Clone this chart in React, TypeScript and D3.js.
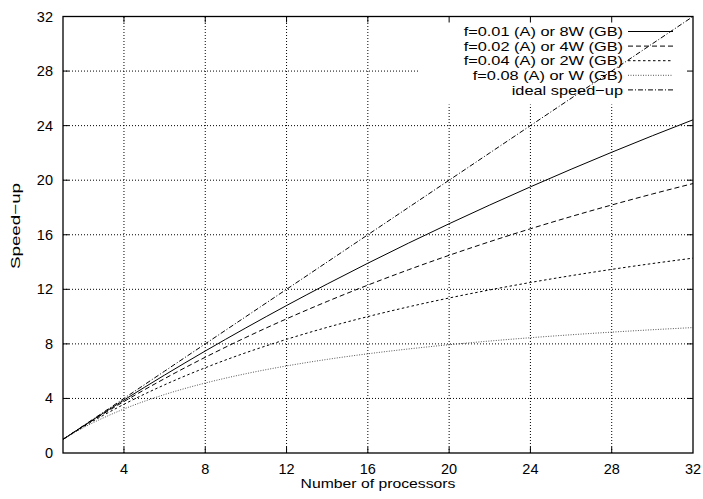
import React, { useRef, useEffect } from 'react';
import * as d3 from 'd3';

// number of processors (x)
const processors = [1, 2, 4, 6, 8, 10, 12, 14, 16, 18, 20, 22, 24, 26, 28, 30, 32];

// speed-up values
const speedF001 = [1, 1.98, 3.883, 5.714, 7.477, 9.174, 10.811, 12.389, 13.913, 15.385, 16.807, 18.182, 19.512, 20.8, 22.047, 23.256, 24.427];
const speedF002 = [1, 1.961, 3.774, 5.455, 7.018, 8.475, 9.836, 11.111, 12.308, 13.433, 14.493, 15.493, 16.438, 17.333, 18.182, 18.987, 19.753];
const speedF004 = [1, 1.923, 3.571, 5.0, 6.25, 7.353, 8.333, 9.211, 10.0, 10.714, 11.364, 11.957, 12.5, 13.0, 13.462, 13.889, 14.286];
const speedF008 = [1, 1.852, 3.226, 4.286, 5.128, 5.814, 6.383, 6.863, 7.273, 7.627, 7.937, 8.209, 8.451, 8.667, 8.861, 9.036, 9.195];
const speedIdeal = [1, 2, 4, 6, 8, 10, 12, 14, 16, 18, 20, 22, 24, 26, 28, 30, 32];

const seriesLabels = [
    'f=0.01 (A) or 8W (GB)',
    'f=0.02 (A) or 4W (GB)',
    'f=0.04 (A) or 2W (GB)',
    'f=0.08 (A) or W (GB)',
    'ideal speed\u2212up',
];

const xTicks = [4, 8, 12, 16, 20, 24, 28, 32];
const yTicks = [0, 4, 8, 12, 16, 20, 24, 28, 32];

function App() {
    const ref = useRef<HTMLDivElement>(null);

    useEffect(() => {
        const width = 703;
        const height = 499;
        const left = 63, right = 693, top = 16.5, bottom = 453;
        const font = 'Liberation Sans, Arial, Helvetica, sans-serif';
        const stretch = 1.21; // the original's text is a bit wider than Helvetica

        d3.select(ref.current).selectAll('*').remove();

        const svg = d3.select(ref.current)
            .append('svg')
            .attr('width', width)
            .attr('height', height)
            .style('position', 'absolute')
            .style('left', '0px')
            .style('top', '0px')
            .style('background', '#fff');

        const x = d3.scaleLinear().domain([1, 32]).range([left, right]);
        const y = d3.scaleLinear().domain([0, 32]).range([bottom, top]);

        // grid
        const grid = svg.append('g')
            .attr('stroke', '#000')
            .attr('stroke-width', 1)
            .attr('stroke-dasharray', '1,2');
        xTicks.filter(t => t < 32).forEach(t => {
            grid.append('line')
                .attr('x1', x(t)).attr('x2', x(t))
                .attr('y1', bottom).attr('y2', top);
        });
        yTicks.filter(t => t > 0 && t < 32).forEach(t => {
            grid.append('line')
                .attr('x1', left).attr('x2', right)
                .attr('y1', y(t)).attr('y2', y(t));
        });

        // opaque key area
        svg.append('rect')
            .attr('x', 418).attr('y', top + 0.5)
            .attr('width', right - 418 - 0.5).attr('height', 104 - top)
            .attr('fill', '#fff');

        const series = [
            { values: speedF001, dash: null, color: '#000' },
            { values: speedF002, dash: '5,3', color: '#000' },
            { values: speedF004, dash: '2.5,2.5', color: '#000' },
            { values: speedF008, dash: '1,1.5', color: '#555' },
            { values: speedIdeal, dash: '5,2,1,2', color: '#000' },
        ];

        const line = d3.line<number>()
            .x((d, i) => x(processors[i]))
            .y(d => y(d))
            .curve(d3.curveMonotoneX);

        const clip = svg.append('clipPath').attr('id', 'plotclip');
        clip.append('rect').attr('x', left).attr('y', top).attr('width', right - left).attr('height', bottom - top);

        const curves = svg.append('g').attr('clip-path', 'url(#plotclip)');
        series.forEach(s => {
            curves.append('path')
                .datum(s.values)
                .attr('fill', 'none')
                .attr('stroke', s.color)
                .attr('stroke-width', 1)
                .attr('stroke-dasharray', s.dash)
                .attr('d', line);
        });

        // key
        series.forEach((s, i) => {
            const ly = 31.5 + i * 14.6;
            svg.append('line')
                .attr('x1', 628).attr('x2', 673)
                .attr('y1', ly).attr('y2', ly)
                .attr('stroke', s.color)
                .attr('stroke-width', 1)
                .attr('stroke-dasharray', s.dash);
            const t = svg.append('text')
                .attr('y', ly + 4.7)
                .attr('font-family', font)
                .attr('font-size', 13.5)
                .text(seriesLabels[i]);
            const w = (t.node() as SVGTextElement).getComputedTextLength() * stretch;
            t.attr('x', 623 - w)
                .attr('textLength', w)
                .attr('lengthAdjust', 'spacingAndGlyphs');
        });

        // frame and ticks
        svg.append('rect')
            .attr('x', left).attr('y', top)
            .attr('width', right - left).attr('height', bottom - top)
            .attr('fill', 'none')
            .attr('stroke', '#000')
            .attr('stroke-width', 1.3);

        const tickLen = 6;
        const ticks = svg.append('g').attr('stroke', '#000').attr('stroke-width', 1);
        xTicks.filter(t => t < 32).forEach(t => {
            ticks.append('line').attr('x1', x(t)).attr('x2', x(t)).attr('y1', bottom).attr('y2', bottom - tickLen);
            ticks.append('line').attr('x1', x(t)).attr('x2', x(t)).attr('y1', top).attr('y2', top + tickLen);
        });
        yTicks.filter(t => t > 0 && t < 32).forEach(t => {
            ticks.append('line').attr('x1', left).attr('x2', left + tickLen).attr('y1', y(t)).attr('y2', y(t));
            ticks.append('line').attr('x1', right).attr('x2', right - tickLen).attr('y1', y(t)).attr('y2', y(t));
        });

        // tick labels
        xTicks.forEach(t => {
            svg.append('text')
                .attr('x', x(t)).attr('y', 474)
                .attr('text-anchor', 'middle')
                .attr('font-family', font)
                .attr('font-size', 14.5)
                .text(t);
        });
        yTicks.forEach(t => {
            svg.append('text')
                .attr('x', 53).attr('y', y(t) + 5)
                .attr('text-anchor', 'end')
                .attr('font-family', font)
                .attr('font-size', 14.5)
                .text(t);
        });

        // axis labels
        const xl = svg.append('text')
            .attr('y', 487.5)
            .attr('font-family', font)
            .attr('font-size', 13)
            .text('Number of processors');
        const xw = (xl.node() as SVGTextElement).getComputedTextLength() * stretch;
        xl.attr('x', (left + right) / 2 - xw / 2)
            .attr('textLength', xw)
            .attr('lengthAdjust', 'spacingAndGlyphs');

        svg.append('text')
            .attr('transform', 'translate(19.5,269) rotate(-90)')
            .attr('font-family', font)
            .attr('font-size', 13)
            .attr('textLength', 86)
            .attr('lengthAdjust', 'spacingAndGlyphs')
            .text('Speed\u2212up');
    }, []);

    return <div ref={ref}></div>;
}

export default App;
